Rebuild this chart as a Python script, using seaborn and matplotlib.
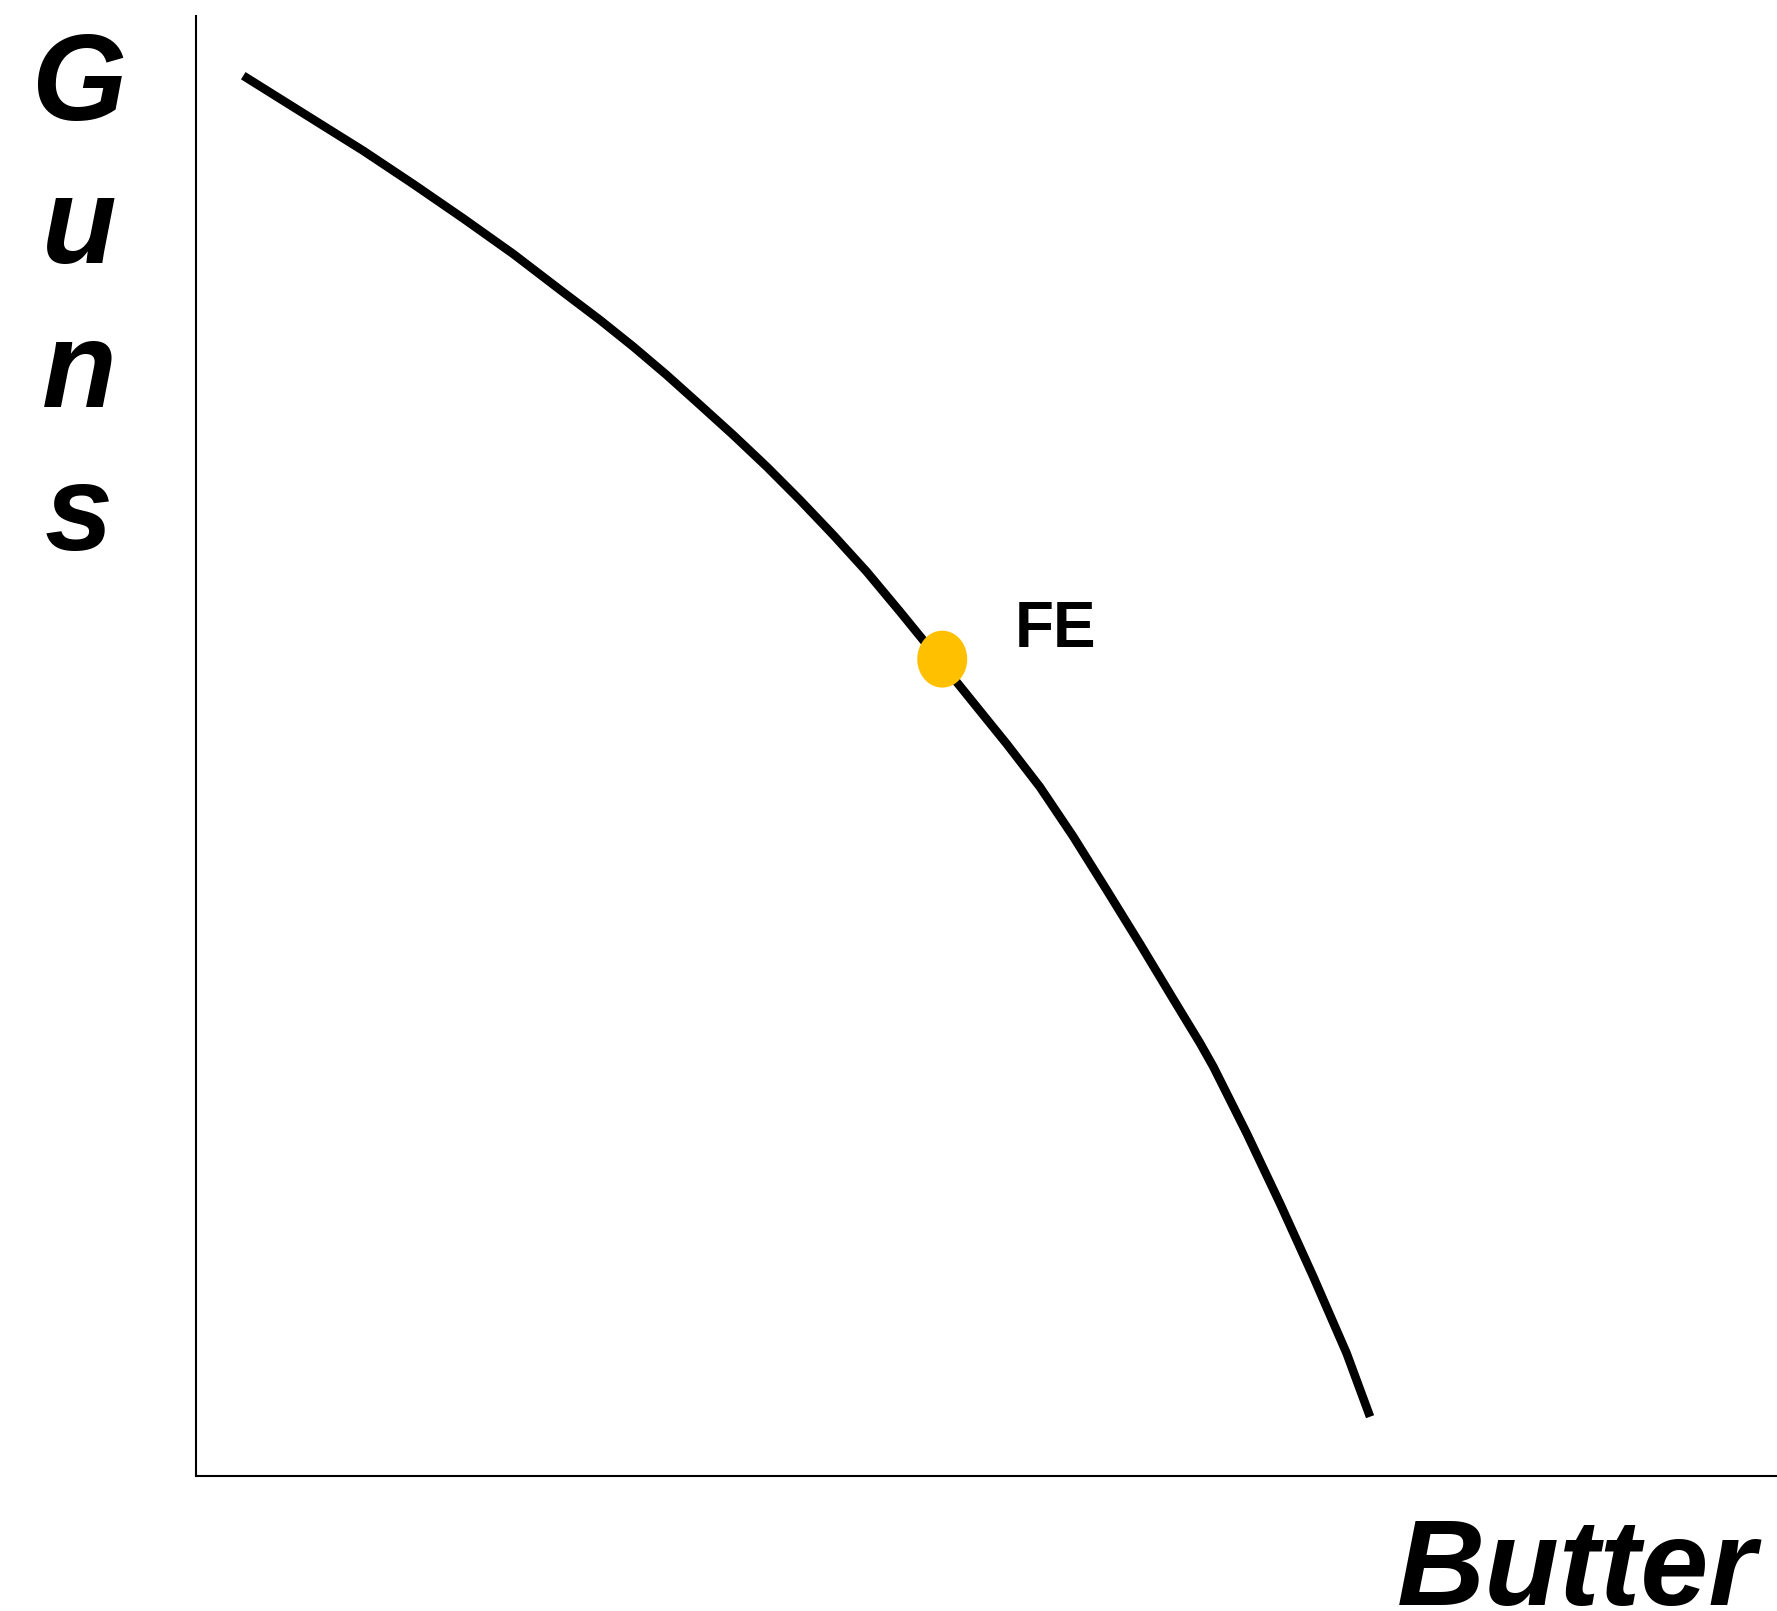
import numpy as np
import pandas as pd
import seaborn as sns
import matplotlib.pyplot as plt
from matplotlib.path import Path

# production possibility frontier (0-100 scale)
butter = [2.99, 8.48, 10.58, 13.74, 16.91, 20.07, 23.23, 25.55, 27.66, 29.77, 31.88,
          33.98, 36.10, 38.20, 40.31, 42.42, 44.53, 45.90, 48.01, 49.59, 51.28, 53.38,
          55.49, 57.60, 59.71, 61.81, 63.50, 64.35, 66.46, 68.56, 70.67, 72.78, 74.26]
guns = [95.91, 92.19, 90.77, 88.49, 86.13, 83.70, 81.08, 79.18, 77.35, 75.41, 73.36,
        71.30, 69.13, 66.85, 64.45, 61.94, 59.20, 57.38, 54.52, 52.40, 50.14, 47.19,
        43.79, 40.14, 36.44, 32.67, 29.66, 28.03, 23.47, 18.68, 13.65, 8.40, 4.06]

point_label = ["FE"]
point_butter = [47.2]
point_guns = [55.95]

curve = pd.DataFrame({"butter": butter, "guns": guns})
point = pd.DataFrame({"butter": point_butter, "guns": point_guns, "label": point_label})

sns.set_style("white")
plt.rcParams["font.family"] = ["Liberation Sans", "DejaVu Sans"]

W, H = 1777, 1611
fig = plt.figure(figsize=(W / 100, H / 100), dpi=100)
ax = fig.add_axes([196 / W, (H - 1476) / H, (W - 196) / W, 1460 / H])

sns.lineplot(data=curve, x="butter", y="guns", ax=ax, color="black",
             linewidth=6.2, sort=False, solid_capstyle="butt",
             solid_joinstyle="round")

# slightly tall ellipse marker
t = np.linspace(0, 2 * np.pi, 60)
ellipse = Path(np.column_stack([0.877 * np.cos(t), np.sin(t)]), closed=True)
sns.scatterplot(data=point, x="butter", y="guns", ax=ax, marker=ellipse,
                s=1681, color="#FFC000", edgecolor="none", zorder=3)

for _, row in point.iterrows():
    ax.text(row["butter"] + 4.6, row["guns"] + 0.8, row["label"],
            fontsize=46, fontweight="bold", color="black",
            ha="left", va="baseline")

ax.set_xlim(0, 100)
ax.set_ylim(0, 100)
ax.set_xticks([])
ax.set_yticks([])
ax.set_xlabel("")
ax.set_ylabel("")
for side in ["top", "right"]:
    ax.spines[side].set_visible(False)
for side in ["left", "bottom"]:
    ax.spines[side].set_color("black")
    ax.spines[side].set_linewidth(1.5)

# axis titles
for letter, base in zip("Guns", [120, 263, 407, 550]):
    fig.text(79 / W, (H - base) / H, letter, fontsize=88, fontweight="bold",
             fontstyle="italic", color="black", ha="center", va="baseline")
fig.text(1397 / W, (H - 1605) / H, "Butter", fontsize=88, fontweight="bold",
         fontstyle="italic", color="black", ha="left", va="baseline")

fig.savefig("out.png", dpi=100, facecolor="white")
